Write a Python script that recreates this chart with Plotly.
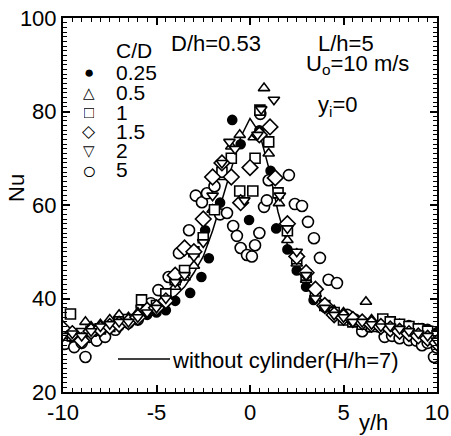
import plotly.graph_objects as go

# ---------------- data ----------------
line_x = [-10, -9, -8, -7, -6, -5, -4, -3.5, -3, -2.5, -2, -1.5, -1, -0.5, 0, 0.5, 1, 1.5, 2, 2.5, 3, 3.5, 4, 4.5, 5, 6, 7, 8, 9, 10]
line_y = [32.5, 33, 33.6, 34.5, 35.5, 37.5, 40.5, 42.5, 45.5, 49, 54.5, 61, 68, 74.5, 78.5, 75.5, 68, 58.5, 51.5, 47, 43.5, 41, 39, 37.6, 36.8, 35.5, 34.5, 33.5, 32.5, 31]

x_025 = [-10, -9.5, -9, -8.5, -8, -7.5, -7, -6.5, -6, -5.5, -5, -4.5, -4, -3.2, -2.6, -2.2, -2.4, -1.6, -0.95, -0.5, -0.05, 0.5, 1.1, 1.4, 2, 2.5, 3, 3.4, 4, 4.5, 5, 5.5, 6, 6.5, 7, 7.5, 8, 8.5, 9.2, 9.5, 10]
y_025 = [32, 31.5, 32, 33, 33.5, 33.5, 34, 35, 35.5, 36.5, 37, 37.5, 39.5, 41.2, 44.6, 48.6, 54.6, 60.5, 78.2, 73, 56.8, 76, 67.3, 55, 50.5, 46, 42.5, 39.7, 38, 37, 36, 35.5, 35, 34.5, 34.5, 34.5, 34.3, 34.3, 33.7, 33.5, 32.8]

x_05 = [-10, -9.5, -8.8, -8.5, -8, -7.5, -7, -6.5, -6, -5.5, -5, -4.5, -4, -3.5, -3, -2.5, -2, -1.5, -1, -0.55, 0.2, 0.75, 1.0, 1.55, 2, 2.5, 3, 3.5, 4, 4.5, 5, 5.5, 6.2, 6.5, 7, 7.5, 8, 8.5, 9, 9.5, 10]
y_05 = [32.5, 33, 35, 34, 34.5, 35.5, 36.5, 36, 37, 38, 38.5, 40, 42.5, 44.5, 47, 53, 59, 66, 72.5, 75, 74.5, 85, 71, 60.4, 52.5, 47.5, 44, 41, 38.5, 37.5, 37, 36, 39.3, 35.5, 35, 34.5, 34.5, 34, 33.5, 33, 32.5]

x_1 = [-9.6, -9.5, -9, -8.5, -8, -7.5, -7, -6.5, -5.8, -5.5, -5, -4.5, -4, -3.5, -3, -2.5, -1.9, -1.5, -1, -0.55, 0.15, 0.27, 0.53, 1.0, 1.5, 2, 2.5, 3, 3.5, 4, 4.5, 5, 5.5, 6, 6.5, 7.1, 7.5, 8, 8.5, 9, 9.5, 10]
y_1 = [36.7, 32, 32.5, 33, 33.5, 34, 35, 35.5, 39.7, 37.5, 38.5, 41, 44, 46, 50, 53, 59, 67, 70, 63, 63, 70, 80.3, 73.5, 62.6, 54.5, 48.5, 45, 41.5, 38.5, 37, 35.4, 35, 34.5, 34, 35.6, 35, 34.5, 34, 33.5, 33, 32]

x_15 = [-10, -9.5, -9, -8.5, -8, -7.5, -7, -6.5, -6, -5.5, -5, -4.5, -4, -3.5, -3, -2.5, -2, -1.5, -1, -0.5, 0, 0.5, 1.07, 1.35, 2, 2.5, 3, 3.5, 4, 4.5, 5, 5.5, 6, 6.5, 7, 7.5, 8, 8.5, 9, 9.5, 10]
y_15 = [33.5, 32.5, 31, 33, 33.5, 34, 34.5, 35, 36, 37.5, 38, 39.5, 45, 50.8, 50, 57, 66, 69, 66, 60.5, 68, 75, 76.7, 65.8, 56, 49, 45.5, 42, 38.5, 36.5, 36, 35.5, 35, 34.5, 34, 33.5, 33, 32.5, 32, 31.5, 30.5]

x_2 = [-10, -9.5, -9, -8.5, -8, -7.5, -7, -6.5, -6, -5.5, -5, -4.5, -4, -3.5, -3, -2.5, -2, -1.5, -1.1, -0.8, -0.3, 0.4, 0.6, 1.28, 1.6, 2, 2.5, 3, 3.5, 4, 4.5, 5, 5.5, 6, 6.5, 7, 7.5, 8, 8.5, 9, 9.5, 10]
y_2 = [32, 32.5, 32, 33, 34, 34.5, 35, 35, 36, 37, 38, 40, 43.5, 45, 49, 52, 62, 69, 73.5, 72, 61, 75, 80.5, 82.5, 62, 55, 50, 45, 40, 38, 36.5, 36, 35, 35, 34.5, 34, 34, 33.5, 33, 32.5, 32, 31]

x_5 = [-10, -9.9, -9.4, -9.0, -8.8, -8.6, -8.2, -7.75, -7.2, -6.5, -6.0, -5.8, -5.3, -4.9, -4.35, -3.95, -3.8, -3.26, -2.9, -2.57, -2.3, -1.9, -1.6, -1.23, -0.9, -0.7, -0.5, -0.16, 0.1, 0.27, 0.5, 0.75, 0.9, 1.0, 0.55, 2.08, 2.4, 2.78, 3.1, 3.42, 3.74, 4.2, 4.65, 5.2, 5.6, 6.0, 6.4, 6.9, 7.2, 7.6, 8.0, 8.5, 8.9, 9.2, 9.5, 9.84, 10]
y_5 = [31.5, 30.3, 29.6, 30.5, 27.5, 31.8, 31, 31.8, 33.3, 34.8, 35.5, 38.2, 39, 41.8, 44.6, 44, 49.7, 54.6, 62, 60.6, 62.5, 64, 58, 58.3, 55.5, 53.4, 50.8, 49.3, 49, 51.4, 54, 59.6, 61, 65.3, 79.5, 66.4, 60.2, 59.8, 56.4, 52.9, 48.7, 44, 43.3, 36.5, 35.5, 33, 34, 34, 31.8, 32, 31.5, 31.1, 31, 30, 30.5, 27.5, 29.5]

series_names = ["0.25", "0.5", "1", "1.5", "2", "5"]
x_ticks = [-10, -5, 0, 5, 10]
y_ticks = [20, 40, 60, 80, 100]

# ---------------- figure ----------------
FONT = "Liberation Sans, Arial, sans-serif"
W, H = 451, 436
L, R, T, B = 63, 14, 18, 44
pw, ph = W - L - R, H - T - B


def px2paper(px, py):
    return (px - L) / pw, (H - B - py) / ph


fig = go.Figure()

fig.add_trace(go.Scatter(x=line_x, y=line_y, mode="lines",
                         line=dict(color="black", width=1.5), showlegend=False))

symbols = ["circle", "triangle-up", "square", "diamond", "triangle-down", "circle"]
sizes = [9, 10, 10, 12, 10, 11]
xs = [x_025, x_05, x_1, x_15, x_2, x_5]
ys = [y_025, y_05, y_1, y_15, y_2, y_5]
order = [0, 5, 1, 2, 3, 4]
for i in order:
    filled = i == 0
    fig.add_trace(go.Scatter(
        x=xs[i], y=ys[i], mode="markers", name=series_names[i], showlegend=False,
        marker=dict(symbol=symbols[i], size=sizes[i],
                    color="black" if filled else "white",
                    line=dict(color="black", width=1.6))))

annotations = []


def add_text(text, px, py, size=22, xanchor="left", angle=0, height=None):
    xp, yp = px2paper(px, py)
    a = dict(text=text, x=xp, y=yp, xref="paper", yref="paper",
             xanchor=xanchor, yanchor="middle", showarrow=False,
             textangle=angle,
             font=dict(family=FONT, size=size, color="black"))
    if height is not None:
        a["height"] = height
    annotations.append(a)


# legend (manual)
add_text("C/D", 114, 50, size=21, height=19)
legend_syms = ["●", "△", "□", "◇", "▽", "○"]
sym_sizes = [17, 15, 17, 17, 15, 24]
rows = [72, 92, 112, 131, 150, 170]
for s, ss, name, py in zip(legend_syms, sym_sizes, series_names, rows):
    add_text(s, 89, py, size=ss, xanchor="center", height=18)
    add_text(name, 114, py, size=21, height=19)

add_text("D/h=0.53", 169, 43)
add_text("L/h=5", 316, 44, height=19)
add_text("U<sub>o</sub>=10 m/s", 304, 65, height=21)
add_text("y<sub>i</sub>=0", 316, 106)
add_text("without cylinder(H/h=7)", 170, 360)
add_text("Nu", 16, 188, size=22, xanchor="center", angle=-90)
add_text("y/h", 373, 422, size=22, xanchor="center")

x0, y0 = px2paper(118, 359)
x1, _ = px2paper(170, 359)
shapes = [dict(type="line", xref="paper", yref="paper", x0=x0, x1=x1, y0=y0, y1=y0,
               line=dict(color="black", width=1.5))]

axis_common = dict(showline=True, linecolor="black", linewidth=2, mirror="ticks",
                   ticks="inside", tickcolor="black", tickwidth=1.5, ticklen=7,
                   showgrid=False, zeroline=False, automargin=False,
                   tickfont=dict(family=FONT, size=22, color="black"))

fig.update_layout(
    width=W, height=H,
    margin=dict(l=L, r=R, t=T, b=B),
    paper_bgcolor="white", plot_bgcolor="white",
    showlegend=False,
    xaxis=dict(range=[-10, 10], tickvals=x_ticks, ticktext=[str(v) for v in x_ticks],
               minor=dict(dtick=0.5, ticklen=4, tickcolor="black", tickwidth=1.2, ticks="inside"),
               **axis_common),
    yaxis=dict(range=[20, 100], tickvals=y_ticks, ticktext=[str(v) for v in y_ticks],
               minor=dict(dtick=1, ticklen=4, tickcolor="black", tickwidth=1.2, ticks="inside"),
               **axis_common),
    annotations=annotations,
    shapes=shapes,
)

fig.write_html("out.html")
